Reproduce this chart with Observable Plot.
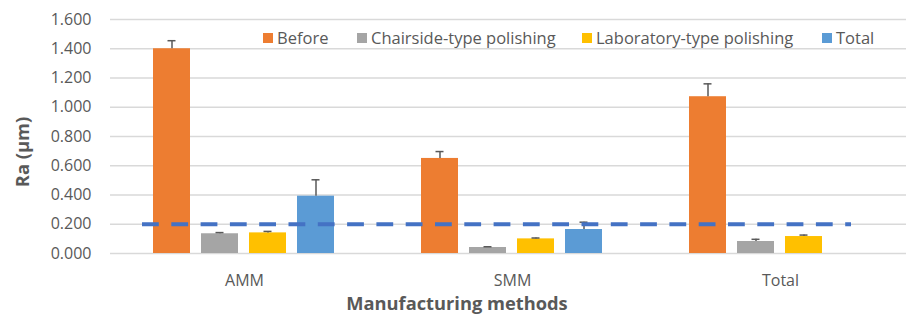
<!DOCTYPE html>
<html><head><meta charset="utf-8">
<script src="https://cdn.jsdelivr.net/npm/d3@7"></script>
<script src="https://cdn.jsdelivr.net/npm/@observablehq/plot@0.6"></script>
<style>
body{margin:0;background:#fff;font-family:"Open Sans",sans-serif;}
#wrap{position:relative;width:906px;height:318px;overflow:hidden;}
#wrap svg{position:absolute;left:0;top:0;}
.lg{position:absolute;top:26px;display:flex;align-items:center;font-size:16.5px;color:#595959;white-space:nowrap;}
.lg span.sw{display:inline-block;width:10px;height:10px;margin-right:4px;}
.ttl{position:absolute;font-weight:bold;font-size:18.3px;color:#595959;white-space:nowrap;transform:translate(-50%,-50%);}
</style></head><body><div id="wrap"></div>
<script>
const groups = ["AMM", "SMM", "Total"];
const series = ["Before", "Chairside-type polishing", "Laboratory-type polishing", "Total"];
const colors = ["#ED7D31", "#A5A5A5", "#FFC000", "#5B9BD5"];
// mean Ra (µm) per group, one array per series
const beforeVals = [1.400, 0.650, 1.072];
const chairsideVals = [0.135, 0.041, 0.082];
const laboratoryVals = [0.141, 0.100, 0.116];
const totalVals = [0.392, 0.164, null];
// upper error (SD)
const beforeErr = [0.055, 0.047, 0.088];
const chairsideErr = [0.008, 0.005, 0.015];
const laboratoryErr = [0.010, 0.006, 0.010];
const totalErr = [0.112, 0.050, null];
const yTicks = [0, 0.2, 0.4, 0.6, 0.8, 1.0, 1.2, 1.4, 1.6];
const threshold = 0.2;
const xTitle = "Manufacturing methods";
const yTitle = "Ra (μm)";

const vals = [beforeVals, chairsideVals, laboratoryVals, totalVals];
const errs = [beforeErr, chairsideErr, laboratoryErr, totalErr];
const data = groups.flatMap((g, i) => series.map((s, j) => ({group: g, series: s, value: vals[j][i], err: errs[j][i]})))
  .filter(d => d.value != null);

const common = {
  width: 906, height: 318,
  marginLeft: 110, marginRight: -8, marginTop: 19, marginBottom: 65,
  style: {fontFamily: "'Open Sans', sans-serif", fontSize: "16px", color: "#595959", background: "transparent", overflow: "visible"}
};
const yScale = {domain: [0, 1.6], ticks: yTicks, tickFormat: d3.format(".3f"), label: null, tickSize: 0, tickPadding: 19};

const plot = Plot.plot({
  ...common,
  fx: {domain: groups, paddingInner: 0, paddingOuter: 0, label: null, axis: "bottom", tickSize: 0, tickPadding: 21},
  x: {domain: series, paddingInner: 0.22, paddingOuter: 0.86, axis: null},
  y: yScale,
  color: {domain: series, range: colors},
  marks: [
    Plot.ruleY(yTicks, {stroke: "#d9d9d9", strokeWidth: 1.5}),
    Plot.barY(data, {fx: "group", x: "series", y: "value", fill: "series"}),
    Plot.ruleX(data, {fx: "group", x: "series", y1: "value", y2: d => d.value + d.err, stroke: "#595959", strokeWidth: 1.5}),
    Plot.tickY(data, {fx: "group", x: "series", y: d => d.value + d.err, stroke: "#595959", strokeWidth: 1.5, insetLeft: 14.5, insetRight: 14.5})
  ]
});
// threshold line across the whole plot area, same y scale
const overlay = Plot.plot({
  ...common,
  y: {...yScale, axis: null},
  marks: [
    Plot.ruleY([threshold], {stroke: "#4472C4", strokeWidth: 4, strokeDasharray: "16.8,12.5", insetLeft: 32, insetRight: 63})
  ]
});
const wrap = document.getElementById("wrap");
wrap.appendChild(plot);
wrap.appendChild(overlay);

const legendLeft = [263, 357, 582, 822];
series.forEach((s, j) => {
  const el = document.createElement("div");
  el.className = "lg";
  el.style.left = legendLeft[j] + "px";
  el.innerHTML = `<span class="sw" style="background:${colors[j]}"></span>${s}`;
  wrap.appendChild(el);
});
const xt = document.createElement("div");
xt.className = "ttl"; xt.textContent = xTitle;
xt.style.left = "457px"; xt.style.top = "302px";
wrap.appendChild(xt);
const yt = document.createElement("div");
yt.className = "ttl"; yt.textContent = yTitle;
yt.style.left = "21px"; yt.style.top = "152px";
yt.style.transform = "translate(-50%,-50%) rotate(-90deg)";
wrap.appendChild(yt);
</script></body></html>
